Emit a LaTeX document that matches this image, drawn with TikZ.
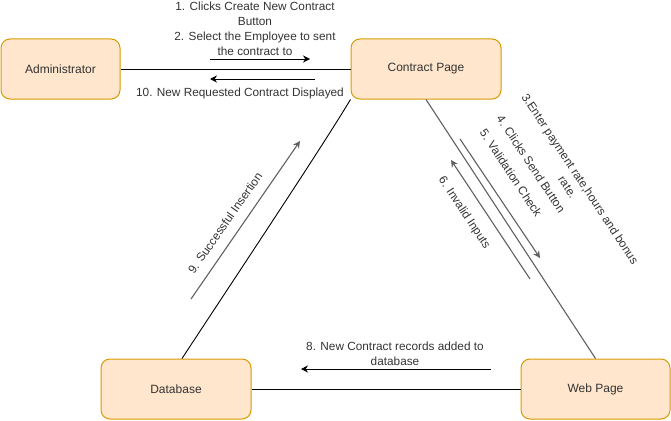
\documentclass[tikz,border=0pt]{standalone}
\usepackage{fontspec}
\setmainfont{Liberation Sans}
\usetikzlibrary{arrows.meta}
\definecolor{boxfill}{HTML}{FFE6CC}
\definecolor{boxdraw}{HTML}{D79B00}
\definecolor{txt}{HTML}{333333}
\definecolor{grayline}{HTML}{606060}
\tikzset{
  box/.style={draw=boxdraw, fill=boxfill, line width=1pt, rounded corners=9pt,
    minimum height=60pt, minimum width=150pt, text=txt, inner sep=0pt,
    font=\fontsize{12}{14}\selectfont},
  lbl/.style={text=txt, align=center, inner sep=0pt, font=\fontsize{11.8}{15}\selectfont},
  conn/.style={line width=0.9pt, black},
  gconn/.style={line width=1.1pt, grayline},
  arr/.style={line width=0.9pt, black, -{Stealth[length=7pt,width=7pt]}},
  garr/.style={line width=1.1pt, grayline, -{Stealth[length=7pt,width=7pt]}},
}
\begin{document}
\begin{tikzpicture}[x=1pt,y=-1pt]
\useasboundingbox (0,0) rectangle (671,420);
% boxes
\node[box, minimum width=119pt] (admin) at (60.5,69) {Administrator};
\node[box] (contract) at (426,69) {Contract Page};
\node[box, minimum width=149pt] (web) at (595.5,389) {Web Page};
\node[box] (db) at (176,389) {Database};
% main connectors
\draw[conn] (admin.east) -- (contract.west);
\draw[conn] (db.east) -- (web.west);
\draw[gconn] (contract.south) -- (web.north);
\coordinate (dbtop) at (182,358.5);
\draw[conn] (dbtop) .. controls (250,255) and (320,150) .. (contract.south west);
% message arrows
\coordinate (a1s) at (210,59); \coordinate (a1e) at (310,59);
\draw[arr] (a1s) -- (a1e);
\coordinate (a10s) at (315,79); \coordinate (a10e) at (210,79);
\draw[arr] (a10s) -- (a10e);
\coordinate (a8s) at (491,369); \coordinate (a8e) at (301,369);
\draw[arr] (a8s) -- (a8e);
\coordinate (a9s) at (191,299); \coordinate (a9e) at (300,141);
\draw[garr] (a9s) -- (a9e);
\coordinate (a4s) at (460,139); \coordinate (a4e) at (540,258);
\draw[garr] (a4s) -- (a4e);
\coordinate (a6s) at (530,279); \coordinate (a6e) at (451,160);
\draw[garr] (a6s) -- (a6e);
% labels
\node[lbl] (l1) at (255,14) {1. Clicks Create New Contract\\Button};
\node[lbl] (l2) at (255,44) {2. Select the Employee to sent\\the contract to};
\node[lbl] (l10) at (240,93) {10. New Requested Contract Displayed};
\node[lbl] (l8) at (395,354) {8. New Contract records added to\\database};
\node[lbl, rotate=55] (l9) at (225,223) {9. Successful Insertion};
\node[lbl, rotate=-56.5] (l3) at (574,183) {3.Enter payment rate,hours and bonus\\rate.};
\node[lbl, rotate=-56.5] (l4) at (531,164) {4. Clicks Send Button};
\node[lbl, rotate=-56.5] (l5) at (511,173) {5. Validation Check};
\node[lbl, rotate=-56.5] (l6) at (464,213) {6. Invalid Inputs};
\end{tikzpicture}
\end{document}
